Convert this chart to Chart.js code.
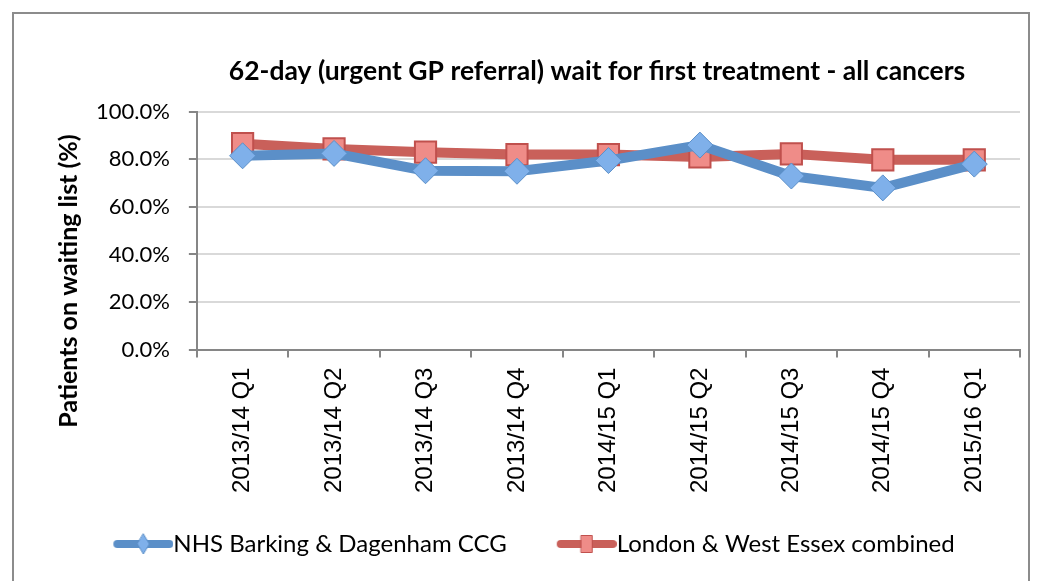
<!DOCTYPE html>
<html>
<head>
<meta charset="utf-8">
<script src="https://cdn.jsdelivr.net/npm/chart.js@4/dist/chart.umd.min.js"></script>
<style>
  html, body { margin: 0; padding: 0; background: #fff; }
  #wrap { position: relative; width: 1037px; height: 581px; overflow: hidden; }
  #frame { position: absolute; left: 12px; top: 12px; width: 1018px; height: 600px;
           border: 2px solid #8c8c8c; box-sizing: border-box; }
  #chartBox { position: absolute; left: 0; top: 0; width: 1037px; height: 581px; }
</style>
</head>
<body>
<div id="wrap">
  <div id="frame"></div>
  <div id="chartBox"><canvas id="waitChart"></canvas></div>
</div>
<script>
// ----------------------
// Data
// ----------------------
const quarters = ["2013/14 Q1", "2013/14 Q2", "2013/14 Q3", "2013/14 Q4", "2014/15 Q1",
                  "2014/15 Q2", "2014/15 Q3", "2014/15 Q4", "2015/16 Q1"];
const barkingDagenham = [81.5, 82.5, 75.2, 75.0, 79.5, 86.0, 73.0, 68.0, 78.0];
const londonWestEssex = [86.6, 84.4, 83.0, 82.0, 82.0, 81.0, 82.3, 79.8, 79.8];
const yTicks = [0, 20, 40, 60, 80, 100];
const yAxisTitle = "Patients on waiting list (%)";

const FONT = "Lato, 'Open Sans', sans-serif";
const XFONT = "'Liberation Sans', Arial, sans-serif";

// legend icon: line with marker, drawn at the right end of a wider transparent canvas
// so the text sits right after it (Chart.js centres the image on the box)
const ICON_W = 106;
function legendIcon(lineColor, fill, stroke, shape) {
  const c = document.createElement("canvas");
  c.width = ICON_W; c.height = 22;
  const g = c.getContext("2d");
  const x0 = ICON_W - 60, mid = ICON_W - 30;
  g.strokeStyle = lineColor;
  g.lineWidth = 8;
  g.lineCap = "round";
  g.beginPath(); g.moveTo(x0 + 4, 11); g.lineTo(ICON_W - 4, 11); g.stroke();
  g.fillStyle = fill; g.strokeStyle = stroke; g.lineWidth = 1;
  g.beginPath();
  if (shape === "diamond") {
    g.moveTo(mid, 1); g.lineTo(mid + 6, 11); g.lineTo(mid, 21); g.lineTo(mid - 6, 11); g.closePath();
  } else {
    g.rect(mid - 5.5, 2.5, 11, 17);
  }
  g.fill(); g.stroke();
  return c;
}

const blueIcon = legendIcon("#5b8fc8", "#7fb0ea", "#5b8fc8", "diamond");
const redIcon = legendIcon("#c9605a", "#ef8c88", "#c0504d", "square");

// Excel places the title over the plot area and the legend a bit left of centre
const blockShift = {
  id: "blockShift",
  afterLayout(chart) {
    if (chart.legend) { chart.legend.left -= 18; chart.legend.right -= 18; }
    if (chart.titleBlock) { chart.titleBlock.left += 62; chart.titleBlock.right += 62; }
  }
};

// y axis title, sitting lower than the centre of the plot as in the original
const yTitle = {
  id: "yTitle",
  afterDraw(chart) {
    const g = chart.ctx;
    g.save();
    g.translate(69, 281);
    g.rotate(-Math.PI / 2);
    g.font = "bold 25px " + FONT;
    g.fillStyle = "#000";
    g.textAlign = "center";
    g.textBaseline = "middle";
    g.fillText(yAxisTitle, 0, 0);
    g.restore();
  }
};

const ctx = document.getElementById("waitChart").getContext("2d");
new Chart(ctx, {
  type: "line",
  data: {
    labels: quarters,
    datasets: [
      {
        label: "NHS Barking & Dagenham CCG",
        data: barkingDagenham,
        borderColor: "#5b8fc8",
        borderWidth: 10,
        pointStyle: "rectRot",
        pointRadius: 13,
        pointBackgroundColor: "#7fb0ea",
        pointBorderColor: "#5b8fc8",
        pointBorderWidth: 1,
        tension: 0
      },
      {
        label: "London & West Essex combined",
        data: londonWestEssex,
        borderColor: "#c9605a",
        borderWidth: 10,
        pointStyle: "rect",
        pointRadius: 15,
        pointBackgroundColor: "#ef8c88",
        pointBorderColor: "#c0504d",
        pointBorderWidth: 2,
        tension: 0
      }
    ]
  },
  plugins: [blockShift, yTitle],
  options: {
    responsive: true,
    maintainAspectRatio: false,
    animation: false,
    layout: { padding: { left: 50, right: 17, top: 48, bottom: 15 } },
    plugins: {
      title: {
        display: true,
        text: "62-day (urgent GP referral) wait for first treatment - all cancers",
        color: "#000",
        font: { family: FONT, size: 26.5, weight: "bold" },
        padding: { top: 8, bottom: 24 }
      },
      legend: {
        position: "bottom",
        labels: {
          color: "#000",
          font: { family: FONT, size: 24 },
          usePointStyle: true,
          pointStyleWidth: 82,
          boxHeight: 22,
          generateLabels: chart => chart.data.datasets.map((ds, i) => ({
            text: ds.label,
            datasetIndex: i,
            pointStyle: i === 0 ? blueIcon : redIcon,
            fontColor: "#000",
            lineWidth: 0,
            strokeStyle: "transparent",
            fillStyle: "transparent"
          })),
          padding: 16
        }
      },
      tooltip: { enabled: false }
    },
    scales: {
      x: {
        offset: true,
        grid: {
          offset: true,
          drawOnChartArea: false,
          drawTicks: true,
          tickLength: 8,
          color: "#868686",
          lineWidth: 2
        },
        border: { color: "#868686", width: 2 },
        ticks: {
          color: "#000",
          font: { family: XFONT, size: 24 },
          minRotation: 90,
          maxRotation: 90,
          padding: 10
        },
        afterFit: scale => { scale.height += 13; }
      },
      y: {
        min: 0,
        max: 100,
        afterBuildTicks: axis => { axis.ticks = yTicks.map(v => ({ value: v })); },
        afterFit: scale => { scale.width += 27; },
        grid: {
          color: "#d9d9d9",
          lineWidth: 2,
          tickLength: 8,
          tickColor: "#868686"
        },
        border: { color: "#868686", width: 2 },
        ticks: {
          color: "#000",
          font: { family: FONT, size: 22 },
          padding: 19,
          callback: v => v.toFixed(1) + "%"
        }
      }
    }
  }
});
</script>
</body>
</html>
